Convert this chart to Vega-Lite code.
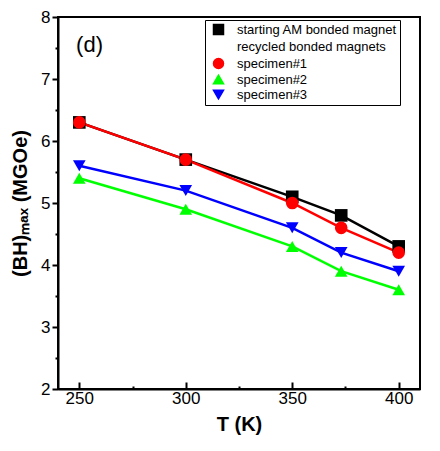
{
  "$schema": "https://vega.github.io/schema/vega-lite/v6.json",
  "width": 362,
  "height": 372,
  "autosize": {"type": "none"},
  "padding": {"left": 58, "top": 17, "right": 20, "bottom": 62},
  "background": "white",
  "config": {
    "font": "Liberation Sans",
    "view": {"stroke": "black", "strokeWidth": 2},
    "axis": {"domainColor": "black", "domainWidth": 2, "tickColor": "black", "tickWidth": 2, "grid": false, "labelColor": "black", "titleColor": "black", "labelFont": "Liberation Sans", "titleFont": "Liberation Sans"}
  },
  "datasets": {
    "series": [
      {"T": 250, "v": 6.3, "s": "starting AM bonded magnet"},
      {"T": 300, "v": 5.7, "s": "starting AM bonded magnet"},
      {"T": 350, "v": 5.1, "s": "starting AM bonded magnet"},
      {"T": 373, "v": 4.8, "s": "starting AM bonded magnet"},
      {"T": 400, "v": 4.3, "s": "starting AM bonded magnet"},
      {"T": 250, "v": 5.4, "s": "specimen#2"},
      {"T": 300, "v": 4.9, "s": "specimen#2"},
      {"T": 350, "v": 4.3, "s": "specimen#2"},
      {"T": 373, "v": 3.9, "s": "specimen#2"},
      {"T": 400, "v": 3.6, "s": "specimen#2"},
      {"T": 250, "v": 5.6, "s": "specimen#3"},
      {"T": 300, "v": 5.2, "s": "specimen#3"},
      {"T": 350, "v": 4.6, "s": "specimen#3"},
      {"T": 373, "v": 4.2, "s": "specimen#3"},
      {"T": 400, "v": 3.9, "s": "specimen#3"},
      {"T": 250, "v": 6.3, "s": "specimen#1"},
      {"T": 300, "v": 5.7, "s": "specimen#1"},
      {"T": 350, "v": 5.0, "s": "specimen#1"},
      {"T": 373, "v": 4.6, "s": "specimen#1"},
      {"T": 400, "v": 4.2, "s": "specimen#1"}
    ],
    "panel": [{"label": "(d)", "T": 248.5, "v": 7.44}]
  },
  "data": {"name": "series"},
  "encoding": {
    "x": {"field": "T", "type": "quantitative", "scale": {"domain": [240, 410], "nice": false, "zero": false},
      "axis": {"title": "T (K)", "values": [250, 275, 300, 325, 350, 375, 400], "labelExpr": "datum.value % 50 === 0 ? datum.label : ''",
        "tickSize": {"condition": {"test": "datum.value % 50 === 0", "value": -7}, "value": -3},
        "labelPadding": 8, "labelFontSize": 17, "titleFontSize": 20, "titleFontWeight": "bold", "titlePadding": 8}},
    "y": {"field": "v", "type": "quantitative", "scale": {"domain": [2, 8], "nice": false, "zero": false},
      "axis": {"title": "(BH)ₘₐₓ (MGOe)", "values": [2, 2.5, 3, 3.5, 4, 4.5, 5, 5.5, 6, 6.5, 7, 7.5, 8], "labelExpr": "datum.value % 1 === 0 ? format(datum.value, 'd') : ''",
        "tickSize": {"condition": {"test": "datum.value % 1 === 0", "value": 6}, "value": 3},
        "labelPadding": 2, "labelFontSize": 17, "titleFontSize": 20, "titleFontWeight": "bold", "titlePadding": 10}},
    "color": {"field": "s", "type": "nominal",
      "scale": {"domain": ["starting AM bonded magnet", "recycled bonded magnets", "specimen#1", "specimen#2", "specimen#3"], "range": ["#000000", "#ffffff", "#ff0000", "#00ff00", "#0000ff"]},
      "legend": {"title": null, "orient": "none", "legendX": 147, "legendY": 3, "fillColor": "white", "strokeColor": "black", "padding": 3,
        "labelFontSize": 13, "labelFont": "Liberation Sans", "labelColor": "black", "labelLimit": 300, "labelOffset": 12, "symbolOffset": 4, "rowPadding": 0}}
  },
  "layer": [
    {"mark": {"type": "line", "strokeWidth": 2.5}},
    {"mark": {"type": "point", "filled": true, "opacity": 1, "size": 160},
      "encoding": {"shape": {"field": "s", "type": "nominal", "legend": null,
        "scale": {"domain": ["starting AM bonded magnet", "recycled bonded magnets", "specimen#1", "specimen#2", "specimen#3"], "range": ["square", "circle", "circle", "triangle-up", "triangle-down"]}}}},
    {"data": {"name": "panel"},
      "mark": {"type": "text", "align": "left", "baseline": "alphabetic", "fontSize": 22, "font": "Liberation Sans"},
      "encoding": {"text": {"field": "label"}, "color": {"value": "black"}}}
  ]
}
